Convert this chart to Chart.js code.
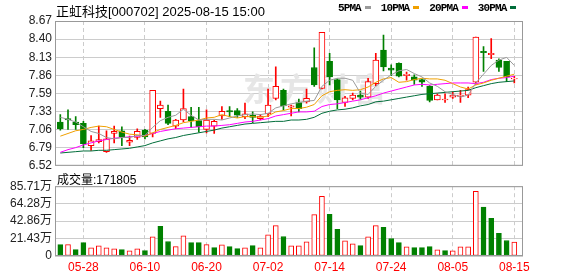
<!DOCTYPE html>
<html>
<head>
<meta charset="utf-8">
<script src="https://cdn.jsdelivr.net/npm/chart.js@4.4.1/dist/chart.umd.min.js"></script>
<style>
  body { margin: 0; background: #fff; }
  #wrap { position: relative; width: 578px; height: 276px; overflow: hidden; font-family: "Liberation Sans", "Noto Sans CJK SC", sans-serif; color: #000; }
  #title { position: absolute; left: 56px; top: 1px; font-size: 13px; white-space: nowrap; }
  #legend { position: absolute; left: 338px; top: 2px; font-family: "Liberation Mono", monospace; font-size: 11px; font-weight: bold; letter-spacing: -0.9px; white-space: nowrap; }
  #legend .mk { display: inline-block; width: 6px; height: 3px; margin: 0 10px 2px 4px; vertical-align: middle; }
  #volLabel { position: absolute; left: 57px; top: 170px; font-size: 12px; white-space: nowrap; }
  canvas { position: absolute; left: 0; }
  #priceChart { top: 0; }
  #volChart { top: 176px; }
</style>
</head>
<body>
<div id="wrap">
  <canvas id="priceChart" width="578" height="176"></canvas>
  <canvas id="volChart" width="578" height="100"></canvas>
  <div id="title">正虹科技[000702] 2025-08-15 15:00</div>
  <div id="legend">5PMA<span class="mk" style="background:#9a9a9a"></span>10PMA<span class="mk" style="background:#f0a000"></span>20PMA<span class="mk" style="background:#ff00ff"></span>30PMA<span class="mk" style="background:#006d3a"></span></div>
  <div id="volLabel">成交量:171805</div>
</div>
<script>
var dates = ['05-23', '05-26', '05-27', '05-28', '05-29', '05-30', '06-03', '06-04', '06-05', '06-06',
    '06-09', '06-10', '06-11', '06-12', '06-13', '06-16', '06-17', '06-18', '06-19', '06-20',
    '06-23', '06-24', '06-25', '06-26', '06-27', '06-30', '07-01', '07-02', '07-03', '07-04',
    '07-07', '07-08', '07-09', '07-10', '07-11', '07-14', '07-15', '07-16', '07-17', '07-18',
    '07-21', '07-22', '07-23', '07-24', '07-25', '07-28', '07-29', '07-30', '07-31', '08-01',
    '08-04', '08-05', '08-06', '08-07', '08-08', '08-11', '08-12', '08-13', '08-14', '08-15'];

var opens = [7.17, 7.22, 7.17, 7.15, 6.82, 6.88, 6.73, 7.00, 7.04, 6.87,
    6.94, 7.05, 7.00, 7.37, 7.33, 7.11, 7.20, 7.25, 7.19, 7.06,
    7.11, 7.26, 7.34, 7.34, 7.25, 7.27, 7.22, 7.29, 7.52, 7.64,
    7.39, 7.46, 7.47, 7.98, 7.67, 8.07, 7.80, 7.46, 7.52, 7.57,
    7.54, 7.74, 8.24, 7.97, 8.04, 7.86, 7.84, 7.80, 7.70, 7.50,
    7.50, 7.54, 7.55, 7.57, 7.76, 8.22, 8.17, 8.09, 8.07, 7.81];
var highs = [7.28, 7.35, 7.25, 7.18, 6.97, 7.11, 7.04, 7.11, 7.10, 6.96,
    7.07, 7.06, 7.64, 7.48, 7.42, 7.21, 7.66, 7.39, 7.39, 7.35,
    7.20, 7.40, 7.40, 7.37, 7.45, 7.32, 7.28, 7.66, 7.99, 7.66,
    7.42, 7.51, 7.66, 8.27, 8.50, 8.19, 7.81, 7.55, 7.60, 7.63,
    7.82, 8.19, 8.46, 8.02, 8.05, 7.91, 7.87, 7.81, 7.71, 7.59,
    7.59, 7.62, 7.64, 7.69, 8.43, 8.29, 8.41, 8.11, 8.07, 7.85];
var lows = [7.05, 7.06, 7.06, 6.79, 6.75, 6.86, 6.72, 6.86, 6.82, 6.82,
    6.91, 6.92, 6.95, 7.24, 7.13, 7.07, 7.17, 7.09, 7.02, 7.01,
    7.00, 7.21, 7.25, 7.24, 7.22, 7.16, 7.20, 7.25, 7.50, 7.35,
    7.26, 7.32, 7.45, 7.70, 7.66, 7.72, 7.37, 7.40, 7.50, 7.51,
    7.52, 7.71, 7.93, 7.86, 7.84, 7.79, 7.73, 7.70, 7.47, 7.50,
    7.46, 7.52, 7.46, 7.53, 7.73, 7.92, 8.11, 7.92, 7.77, 7.75];
var closes = [7.07, 7.20, 7.13, 6.85, 6.89, 6.91, 6.92, 7.03, 6.95, 6.90,
    7.03, 6.95, 7.64, 7.42, 7.15, 7.20, 7.37, 7.19, 7.10, 7.20,
    7.18, 7.33, 7.32, 7.27, 7.29, 7.24, 7.26, 7.42, 7.70, 7.41,
    7.41, 7.37, 7.52, 7.72, 8.50, 7.84, 7.50, 7.53, 7.57, 7.54,
    7.77, 8.09, 7.99, 7.94, 7.85, 7.88, 7.79, 7.76, 7.49, 7.57,
    7.51, 7.57, 7.57, 7.65, 8.43, 8.20, 8.19, 7.98, 7.84, 7.82];

var ma5 = [7.24, 7.21, 7.17, 7.10, 7.03, 7.00, 6.94, 6.92, 6.94, 6.94,
    6.97, 6.97, 7.09, 7.19, 7.24, 7.27, 7.36, 7.27, 7.20, 7.21,
    7.21, 7.20, 7.23, 7.26, 7.28, 7.29, 7.28, 7.30, 7.38, 7.41,
    7.44, 7.46, 7.48, 7.49, 7.70, 7.79, 7.82, 7.82, 7.79, 7.60,
    7.58, 7.70, 7.79, 7.87, 7.93, 7.95, 7.89, 7.84, 7.75, 7.70,
    7.62, 7.58, 7.54, 7.57, 7.75, 7.88, 8.01, 8.09, 8.13, 8.01];
var ma10 = [6.96, 7.00, 7.04, 7.06, 7.09, 7.11, 7.10, 7.06, 7.02, 6.99,
    6.98, 6.96, 7.01, 7.06, 7.09, 7.12, 7.16, 7.18, 7.20, 7.23,
    7.24, 7.28, 7.25, 7.23, 7.25, 7.25, 7.24, 7.26, 7.32, 7.34,
    7.37, 7.37, 7.39, 7.43, 7.56, 7.62, 7.64, 7.65, 7.64, 7.65,
    7.69, 7.76, 7.81, 7.83, 7.76, 7.77, 7.80, 7.82, 7.81, 7.81,
    7.79, 7.74, 7.69, 7.66, 7.72, 7.75, 7.79, 7.82, 7.85, 7.88];
var ma20 = [6.72, 6.76, 6.79, 6.83, 6.86, 6.89, 6.91, 6.93, 6.94, 6.95,
    6.96, 6.97, 7.00, 7.03, 7.05, 7.07, 7.08, 7.09, 7.10, 7.11,
    7.11, 7.12, 7.13, 7.15, 7.17, 7.18, 7.20, 7.22, 7.26, 7.28,
    7.30, 7.32, 7.32, 7.33, 7.40, 7.43, 7.44, 7.46, 7.48, 7.50,
    7.53, 7.56, 7.60, 7.63, 7.66, 7.69, 7.72, 7.73, 7.72, 7.73,
    7.74, 7.75, 7.75, 7.75, 7.74, 7.76, 7.80, 7.82, 7.83, 7.85];
var ma30 = [6.71, 6.72, 6.73, 6.74, 6.74, 6.75, 6.75, 6.76, 6.77, 6.78,
    6.80, 6.82, 6.86, 6.89, 6.92, 6.94, 6.97, 6.99, 7.01, 7.03,
    7.05, 7.08, 7.10, 7.12, 7.14, 7.15, 7.16, 7.17, 7.18, 7.18,
    7.20, 7.20, 7.21, 7.24, 7.30, 7.33, 7.35, 7.36, 7.38, 7.41,
    7.43, 7.47, 7.48, 7.50, 7.52, 7.54, 7.56, 7.58, 7.59, 7.60,
    7.61, 7.62, 7.63, 7.64, 7.68, 7.71, 7.74, 7.76, 7.77, 7.78];

// volume in 万 (10k shares); volUp = 1 for red (hollow) bars
var volumes = [14.0, 14.0, 7.9, 16.5, 10.0, 12.4, 10.0, 8.7, 7.9, 6.2,
    8.7, 6.6, 23.6, 36.4, 17.8, 11.6, 24.8, 16.5, 16.5, 14.0,
    10.3, 13.7, 11.6, 9.1, 10.0, 12.8, 10.0, 26.0, 37.3, 24.0,
    12.4, 12.4, 17.4, 50.9, 73.3, 51.3, 32.7, 18.6, 14.9, 12.8,
    23.6, 37.3, 35.2, 21.5, 16.5, 11.2, 10.3, 10.3, 11.6, 7.5,
    6.6, 6.2, 11.2, 11.2, 79.5, 60.0, 46.4, 27.7, 19.0, 17.18];
var volUp = [0, 1, 0, 0, 1, 1, 1, 1, 0, 1,
    1, 0, 1, 0, 0, 1, 1, 0, 0, 1,
    0, 1, 0, 0, 1, 0, 1, 1, 1, 0,
    1, 1, 1, 1, 1, 0, 0, 1, 1, 0,
    1, 1, 0, 0, 0, 1, 0, 0, 0, 1,
    0, 1, 1, 1, 1, 0, 0, 0, 0, 1];

var priceTicks = [6.52, 6.79, 7.06, 7.33, 7.59, 7.86, 8.13, 8.40, 8.67];
var volTicks = [0, 21.43, 42.86, 64.28, 85.71];
var dateTicks = [3, 11, 19, 27, 35, 43, 51, 59];

var RED = '#ff0000';
var GREEN = '#008000';
var GRID = '#cccccc';
var FONT = '"Liberation Sans", "Noto Sans CJK SC", sans-serif';

var framePlugin = {
    id: 'frame',
    afterDatasetsDraw: function (chart) {
        var a = chart.chartArea;
        var ctx = chart.ctx;
        ctx.save();
        ctx.strokeStyle = '#999999';
        ctx.lineWidth = 1;
        ctx.strokeRect(a.left + 0.5, a.top + 0.5, a.right - a.left - 1, a.bottom - a.top - 1);
        ctx.restore();
    }
};

var watermarkPlugin = {
    id: 'watermark',
    beforeDatasetsDraw: function (chart) {
        var ctx = chart.ctx;
        ctx.save();
        ctx.font = 'bold 32px "Noto Sans CJK SC"';
        ctx.letterSpacing = '5px';
        ctx.fillStyle = '#e6e6e6';
        ctx.textBaseline = 'middle';
        ctx.fillText('东方财富', 243, 89);
        ctx.restore();
    }
};

function xAxis(showLabels) {
    return {
        type: 'linear',
        min: -0.69,
        max: 60.13,
        bounds: 'data',
        offset: false,
        afterBuildTicks: function (scale) {
            scale.ticks = dateTicks.map(function (v) { return { value: v }; });
        },
        afterFit: function (scale) {
            scale.height = showLabels ? 20 : 0;
        },
        grid: { offset: false, color: GRID, drawTicks: false },
        border: { display: false, dash: [4, 3] },
        ticks: {
            display: showLabels,
            autoSkip: false,
            maxRotation: 0,
            padding: 4,
            color: RED,
            font: { family: FONT, size: 12 },
            callback: function (v) { return dates[v]; }
        }
    };
}

function yAxis(min, max, tickValues, fmt) {
    return {
        type: 'linear',
        min: min,
        max: max,
        bounds: 'data',
        afterBuildTicks: function (scale) {
            scale.ticks = tickValues.map(function (v) { return { value: v }; });
        },
        afterFit: function (scale) {
            scale.width = 55;
        },
        grid: { color: GRID, drawTicks: false },
        border: { display: false },
        ticks: {
            padding: 3,
            color: '#222222',
            font: { family: FONT, size: 12 },
            callback: fmt
        }
    };
}

function points(arr) {
    return arr.map(function (v, i) { return { x: i, y: v }; });
}

function maLine(data, color) {
    return {
        type: 'line',
        data: points(data),
        borderColor: color,
        borderWidth: 1,
        pointRadius: 0,
        tension: 0,
        order: 0
    };
}

var isUp = closes.map(function (c, i) { return c >= opens[i]; });

new Chart(document.getElementById('priceChart'), {
    type: 'bar',
    data: {
        datasets: [
            maLine(ma5, '#9a9a9a'),
            maLine(ma10, '#f0a000'),
            maLine(ma20, '#ff00ff'),
            maLine(ma30, '#006d3a'),
            {
                data: opens.map(function (o, i) { return { x: i, y: [o, closes[i]] }; }),
                backgroundColor: isUp.map(function (u) { return u ? '#ffffff' : GREEN; }),
                borderColor: isUp.map(function (u) { return u ? RED : GREEN; }),
                borderWidth: 1,
                borderSkipped: false,
                barThickness: 6,
                grouped: false,
                order: 1
            },
            {
                data: lows.map(function (l, i) { return { x: i, y: [l, highs[i]] }; }),
                backgroundColor: isUp.map(function (u) { return u ? RED : GREEN; }),
                borderWidth: 0,
                barThickness: 1,
                grouped: false,
                order: 2
            }
        ]
    },
    options: {
        responsive: false,
        animation: false,
        events: [],
        layout: { padding: { left: 0, right: 55, top: 21, bottom: 10 } },
        scales: {
            x: xAxis(false),
            y: yAxis(6.52, 8.67, priceTicks, function (v) { return v.toFixed(2); })
        },
        plugins: { legend: { display: false }, tooltip: { enabled: false } }
    },
    plugins: [watermarkPlugin, framePlugin]
});

new Chart(document.getElementById('volChart'), {
    type: 'bar',
    data: {
        datasets: [{
            data: points(volumes),
            backgroundColor: volUp.map(function (u) { return u ? '#ffffff' : GREEN; }),
            borderColor: volUp.map(function (u) { return u ? RED : GREEN; }),
            borderWidth: 1,
            borderSkipped: false,
            barThickness: 5,
            grouped: false
        }]
    },
    options: {
        responsive: false,
        animation: false,
        events: [],
        layout: { padding: { left: 0, right: 55, top: 10, bottom: 0 } },
        scales: {
            x: xAxis(true),
            y: yAxis(0, 85.71, volTicks, function (v) { return v === 0 ? '0' : v.toFixed(2) + '万'; })
        },
        plugins: { legend: { display: false }, tooltip: { enabled: false } }
    },
    plugins: [framePlugin]
});
</script>
</body>
</html>
